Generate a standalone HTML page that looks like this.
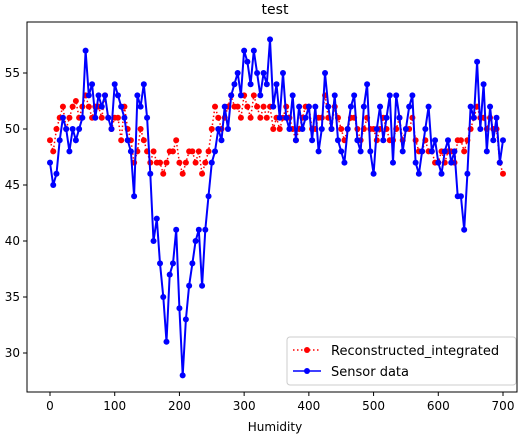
<!DOCTYPE html>
<html><head><meta charset="utf-8"><style>
body{margin:0;background:#fff;font-family:"Liberation Sans","DejaVu Sans",sans-serif}
svg text{font-family:"DejaVu Sans","Liberation Sans",sans-serif}
</style></head><body>
<svg id="chart" width="523" height="435" xmlns="http://www.w3.org/2000/svg">
<rect width="523" height="435" fill="#fff"/>
<text x="275" y="14" font-size="14" text-anchor="middle">test</text>
<g id="plot"></g>
<rect x="27" y="22" width="490" height="370" fill="none" stroke="#000" stroke-width="1"/>
<g id="axes"></g>
<text x="275" y="431" font-size="12" text-anchor="middle">Humidity</text>
<g>
<rect x="287" y="337" width="229" height="48" rx="3" fill="#fff" fill-opacity="0.8" stroke="#ccc"/>
<line x1="293" y1="350" x2="321" y2="350" stroke="red" stroke-width="1.5" stroke-dasharray="1.5,2.5"/>
<circle cx="307" cy="350" r="3" fill="red"/>
<text x="331" y="355" font-size="13">Reconstructed_integrated</text>
<line x1="293" y1="371" x2="321" y2="371" stroke="blue" stroke-width="1.5"/>
<circle cx="307" cy="371" r="3" fill="blue"/>
<text x="331" y="376" font-size="13">Sensor data</text>
</g>
</svg>
<script>
const xStep = 5;
const sensorValues = [47,45,46,49,51,50,48,50,49,50,51,57,53,54,51,53,52,53,51,50,54,53,52,51,49,48,44,53,52,54,51,46,40,42,38,35,31,37,38,41,34,28,33,36,38,40,41,36,41,44,47,48,50,49,52,50,53,54,55,53,57,56,54,57,55,53,55,54,58,52,54,51,55,51,50,53,49,52,50,51,52,49,52,48,50,55,52,50,53,49,48,47,50,52,53,49,48,52,54,48,46,50,52,49,51,53,47,53,51,48,50,52,53,47,46,48,50,52,48,49,47,46,48,49,47,48,44,44,41,46,52,51,56,50,54,48,52,49,51,47,49];
const reconValues = [49,48,50,51,52,50,51,52,52.5,51,52,53,52,51,52,52,51,53,51,50,51,51,49,52,50,49,47,48,50,49,48,47,48,47,47,46,47,48,48,49,47,46,47,48,48,47,48,46,47,48,50,52,51,50,51,52,53,52,52,51,53,52,51,53,52,51,52,51,52,50,51,50,51,52,51,50,49,50,51,52,52,50,50,51,51,53,51,50,52,51,50,49,50,51,51,50,49,50,51,50,50,49,50,51,50,49,49,50,51,49,50,50,51,49,48,48,49,48,48,47,47,48,47,48,48,47,49,49,48,49,50,51,52,51,51,50,51,50,50,47,46];
const xTicks = [0,100,200,300,400,500,600,700];
const yTicks = [30,35,40,45,50,55];
function xs(v){return 50+v*(453/700);}
function ys(v){return 73+(55-v)*11.2;}
const NS="http://www.w3.org/2000/svg";
const plot=document.getElementById('plot'), axes=document.getElementById('axes');
function series(vals,color,dash,name){
  const g=document.createElementNS(NS,'g');
  
  
  const pts=vals.map((v,i)=>xs(i*xStep).toFixed(1)+','+ys(v).toFixed(1)).join(' ');
  const pl=document.createElementNS(NS,'polyline');
  pl.setAttribute('points',pts);pl.setAttribute('fill','none');pl.setAttribute('stroke',color);
  pl.setAttribute('stroke-width',dash?'1.5':'2');if(dash)pl.setAttribute('stroke-dasharray',dash);
  
  
  g.appendChild(pl);
  vals.forEach((v,i)=>{const c=document.createElementNS(NS,'circle');
    c.setAttribute('cx',xs(i*xStep));c.setAttribute('cy',ys(v));c.setAttribute('r','3');c.setAttribute('fill',color);
    
    
    g.appendChild(c);});
  plot.appendChild(g);
}
series(reconValues,'red','1.5,2.5','reconstructed-series');
series(sensorValues,'blue',null,'sensor-series');
xTicks.forEach(t=>{const x=xs(t);
  const l=document.createElementNS(NS,'line');l.setAttribute('x1',x);l.setAttribute('x2',x);l.setAttribute('y1',392);l.setAttribute('y2',396);l.setAttribute('stroke','#000');
  
  
  axes.appendChild(l);
  const tx=document.createElementNS(NS,'text');tx.setAttribute('x',x);tx.setAttribute('y',410);tx.setAttribute('font-size','12');tx.setAttribute('text-anchor','middle');tx.textContent=t;
  
  
  axes.appendChild(tx);});
yTicks.forEach(t=>{const y=ys(t);
  const l=document.createElementNS(NS,'line');l.setAttribute('x1',23);l.setAttribute('x2',27);l.setAttribute('y1',y);l.setAttribute('y2',y);l.setAttribute('stroke','#000');
  
  
  axes.appendChild(l);
  const tx=document.createElementNS(NS,'text');tx.setAttribute('x',20);tx.setAttribute('y',y+4);tx.setAttribute('font-size','12');tx.setAttribute('text-anchor','end');tx.textContent=t;
  
  
  axes.appendChild(tx);});
</script>
</body></html>
